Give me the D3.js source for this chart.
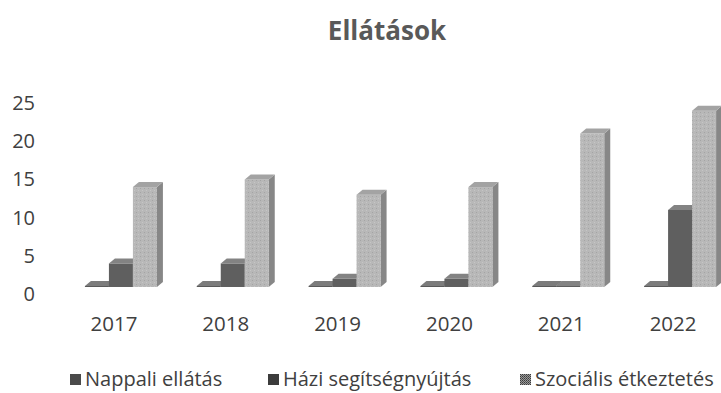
<!DOCTYPE html>
<html>
<head>
<meta charset="utf-8">
<script src="https://cdn.jsdelivr.net/npm/d3@7"></script>
<style>
  html, body { margin: 0; padding: 0; background: #fff; }
  svg { display: block; }
  text { font-family: "Open Sans", "Noto Sans", sans-serif; fill: #404040; }
</style>
</head>
<body>
<svg id="chart" width="721" height="393"></svg>
<script>
// Service counts per year
const years = ["2017", "2018", "2019", "2020", "2021", "2022"];
const nappali = [0, 0, 0, 0, 0, 0];
const hazi = [4, 4, 2, 2, 0, 11];
const szocialis = [14, 15, 13, 14, 21, 24];
const seriesNames = ["Nappali ellátás", "Házi segítségnyújtás", "Szociális étkeztetés"];
const yTicks = [0, 5, 10, 15, 20, 25];

const series = [nappali, hazi, szocialis];

const svg = d3.select("#chart");

// Textures for the light series
const defs = svg.append("defs");
const pat = defs.append("pattern")
  .attr("id", "tex").attr("patternUnits", "userSpaceOnUse")
  .attr("width", 4).attr("height", 4);
pat.append("rect").attr("width", 4).attr("height", 4).attr("fill", "#b8b8b8");
pat.append("rect").attr("x", 0).attr("y", 0).attr("width", 1).attr("height", 1).attr("fill", "#a4a4a4");
pat.append("rect").attr("x", 2).attr("y", 2).attr("width", 1).attr("height", 1).attr("fill", "#c6c6c6");
const patL = defs.append("pattern")
  .attr("id", "texLegend").attr("patternUnits", "userSpaceOnUse")
  .attr("width", 2).attr("height", 2);
patL.append("rect").attr("width", 2).attr("height", 2).attr("fill", "#9a9a9a");
patL.append("rect").attr("width", 1).attr("height", 1).attr("fill", "#3a3a3a");
patL.append("rect").attr("x", 1).attr("y", 1).attr("width", 1).attr("height", 1).attr("fill", "#555");

const styles = [
  { front: "#5a5a5a", top: "#7c7c7c", side: "#4c4c4c", legend: "#4a4a4a" },
  { front: "#5f5f5f", top: "#838383", side: "#505050", legend: "#3c3c3c" },
  { front: "url(#tex)", top: "#a3a3a3", side: "#878787", legend: "url(#texLegend)" }
];

// Title
svg.append("text")
  .attr("x", 387).attr("y", 40)
  .attr("text-anchor", "middle")
  .style("font-size", "26px").style("font-weight", "bold")
  .style("fill", "#595959")
  .text("Ellátások");

// Scales
const y = d3.scaleLinear().domain([0, 25]).range([294, 103]);
const x = d3.scaleBand().domain(years).range([58, 729]);
const inner = d3.scaleBand().domain(d3.range(series.length)).range([0, 72]);
const floorY = 287;
const dx = 6, dy = 5;
const groupShift = -29; // front faces sit slightly right of the category centre

// Value axis
const yAxis = svg.append("g")
  .attr("transform", "translate(35,0)")
  .call(d3.axisLeft(y).tickValues(yTicks).tickSize(0).tickPadding(0));
yAxis.select(".domain").remove();
yAxis.selectAll("text")
  .style("font-size", "20px")
  .style("font-family", "'Open Sans', sans-serif")
  .attr("fill", "#404040");

// Category axis
const xAxis = svg.append("g")
  .attr("transform", "translate(0,316)")
  .call(d3.axisBottom(x).tickSize(0).tickPadding(0));
xAxis.select(".domain").remove();
xAxis.selectAll("text")
  .style("font-size", "20.5px")
  .style("font-family", "'Open Sans', sans-serif")
  .attr("fill", "#404040");

// 3D columns
const bars = svg.append("g");
years.forEach((yr, gi) => {
  const cx = x(yr) + x.bandwidth() / 2 + groupShift;
  series.forEach((vals, si) => {
    const v = vals[gi];
    const x0 = cx + inner(si);
    const x1 = x0 + inner.bandwidth();
    const top = Math.min(y(v), floorY - 1);
    const st = styles[si];
    const g = bars.append("g");
    // side face
    g.append("polygon")
      .attr("points", [[x1, top], [x1 + dx, top - dy], [x1 + dx, floorY - dy], [x1, floorY]].join(" "))
      .attr("fill", st.side);
    // front face
    g.append("rect")
      .attr("x", x0).attr("y", top)
      .attr("width", x1 - x0).attr("height", floorY - top)
      .attr("fill", st.front);
    // top face
    g.append("polygon")
      .attr("points", [[x0, top], [x0 + dx, top - dy], [x1 + dx, top - dy], [x1, top]].join(" "))
      .attr("fill", st.top);
  });
});

// Legend
const legendX = [70, 268, 520];
const legend = svg.append("g");
seriesNames.forEach((name, i) => {
  const g = legend.append("g").attr("transform", `translate(${legendX[i]},386)`);
  g.append("rect").attr("x", 0).attr("y", -12).attr("width", 11).attr("height", 11)
    .attr("fill", styles[i].legend);
  g.append("text").attr("x", 15).attr("y", 0)
    .style("font-size", "20px").text(name);
});
</script>
</body>
</html>
